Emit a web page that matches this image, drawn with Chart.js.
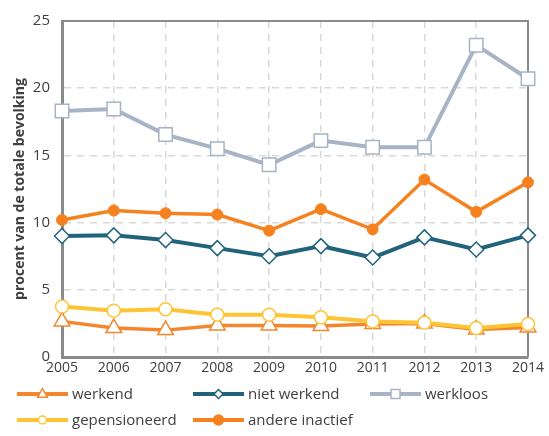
<!DOCTYPE html>
<html>
<head>
<meta charset="utf-8">
<script src="https://cdn.jsdelivr.net/npm/chart.js@4.4.1/dist/chart.umd.min.js"></script>
<style>
  html, body { margin: 0; padding: 0; background: #fff; }
  #wrap { width: 549px; height: 436px; }
</style>
</head>
<body>
<div id="wrap"><canvas id="myChart" width="549" height="436"></canvas></div>
<script>
const years = ['2005','2006','2007','2008','2009','2010','2011','2012','2013','2014'];
const yTicks = [0, 5, 10, 15, 20, 25];

const werkend = [2.65, 2.15, 2.0, 2.35, 2.35, 2.3, 2.45, 2.5, 2.05, 2.2];
const nietWerkend = [9.0, 9.05, 8.7, 8.1, 7.5, 8.25, 7.4, 8.9, 8.0, 9.05];
const werkloos = [18.3, 18.45, 16.55, 15.5, 14.3, 16.1, 15.6, 15.6, 23.2, 20.7];
const gepensioneerd = [3.75, 3.45, 3.55, 3.15, 3.15, 2.95, 2.65, 2.55, 2.15, 2.45];
const andereInactief = [10.2, 10.9, 10.7, 10.6, 9.4, 11.0, 9.5, 13.2, 10.8, 13.0];

const FONT = "'Open Sans', sans-serif";
const TEXT = '#404040';
const AXIS = '#8a8a8a';

// legend layout (columns / rows)
const legendCols = [17, 193, 370];
const legendRows = [394, 420];

function marker(ctx, style, x, y, r, fill, stroke, bw) {
  ctx.save();
  ctx.beginPath();
  if (style === 'circle') {
    ctx.arc(x, y, r, 0, Math.PI * 2);
  } else if (style === 'rect') {
    ctx.rect(x - r, y - r, 2 * r, 2 * r);
  } else if (style === 'rectRot') {
    ctx.moveTo(x, y - r); ctx.lineTo(x + r, y); ctx.lineTo(x, y + r); ctx.lineTo(x - r, y);
    ctx.closePath();
  } else if (style === 'triangle') {
    ctx.moveTo(x, y - r); ctx.lineTo(x + r * 0.9, y + r * 0.6); ctx.lineTo(x - r * 0.9, y + r * 0.6);
    ctx.closePath();
  }
  ctx.fillStyle = fill;
  ctx.fill();
  ctx.lineWidth = bw;
  ctx.strokeStyle = stroke;
  ctx.stroke();
  ctx.restore();
}

const frame = {
  id: 'frame',
  beforeDatasetsDraw(chart) {
    const a = chart.chartArea;
    const ctx = chart.ctx;
    ctx.save();
    ctx.strokeStyle = AXIS;
    ctx.lineWidth = 2;
    ctx.beginPath();
    ctx.moveTo(a.left, a.top);
    ctx.lineTo(a.right, a.top);
    ctx.lineTo(a.right, a.bottom);
    ctx.stroke();
    ctx.restore();
  }
};

const customLegend = {
  id: 'customLegend',
  afterDraw(chart) {
    const ctx = chart.ctx;
    const items = [
      { label: 'werkend', col: 0, row: 0, color: '#f3862e', style: 'triangle', fill: '#fff', r: 5.5 },
      { label: 'niet werkend', col: 1, row: 0, color: '#22637c', style: 'rectRot', fill: '#fff', r: 4.5 },
      { label: 'werkloos', col: 2, row: 0, color: '#a7b4c5', style: 'rect', fill: '#fff', r: 4.5 },
      { label: 'gepensioneerd', col: 0, row: 1, color: '#fdc534', style: 'circle', fill: '#fff', r: 4 },
      { label: 'andere inactief', col: 1, row: 1, color: '#f5821f', style: 'circle', fill: '#f5821f', r: 5 }
    ];
    ctx.save();
    items.forEach(it => {
      const x = legendCols[it.col];
      const y = legendRows[it.row];
      ctx.strokeStyle = it.color;
      ctx.lineWidth = 4;
      ctx.beginPath();
      ctx.moveTo(x, y);
      ctx.lineTo(x + 51, y);
      ctx.stroke();
      marker(ctx, it.style, x + 25.5, y, it.r, it.fill, it.color, 1.5);
      ctx.fillStyle = TEXT;
      ctx.font = '15px ' + FONT;
      ctx.textBaseline = 'middle';
      ctx.textAlign = 'left';
      ctx.fillText(it.label, x + 55, y + 1);
    });
    ctx.restore();
  }
};

const config = {
  type: 'line',
  data: {
    labels: years,
    datasets: [
      {
        label: 'werkend', data: werkend, order: 1,
        borderColor: '#f3862e', borderWidth: 3.5,
        pointStyle: 'triangle', pointRadius: 9, pointBackgroundColor: '#fff',
        pointBorderColor: '#f3862e', pointBorderWidth: 1.5
      },
      {
        label: 'niet werkend', data: nietWerkend, order: 2,
        borderColor: '#22637c', borderWidth: 4,
        pointStyle: 'rectRot', pointRadius: 7.5, pointBackgroundColor: '#fff',
        pointBorderColor: '#22637c', pointBorderWidth: 1.5
      },
      {
        label: 'werkloos', data: werkloos, order: 3,
        borderColor: '#a7b4c5', borderWidth: 4,
        pointStyle: 'rect', pointRadius: 9.5, pointBackgroundColor: '#fff',
        pointBorderColor: '#a7b4c5', pointBorderWidth: 1.5
      },
      {
        label: 'gepensioneerd', data: gepensioneerd, order: 0,
        borderColor: '#fdc534', borderWidth: 4,
        pointStyle: 'circle', pointRadius: 6.5, pointBackgroundColor: '#fff',
        pointBorderColor: '#fdc534', pointBorderWidth: 1.5
      },
      {
        label: 'andere inactief', data: andereInactief, order: 0,
        borderColor: '#f5821f', borderWidth: 3.5,
        pointStyle: 'circle', pointRadius: 5.5, pointBackgroundColor: '#f5821f',
        pointBorderColor: '#f5821f', pointBorderWidth: 1
      }
    ]
  },
  options: {
    responsive: false,
    animation: false,
    events: [],
    layout: { padding: { top: 17, right: 21, bottom: 57, left: 6 } },
    plugins: {
      legend: { display: false },
      tooltip: { enabled: false }
    },
    scales: {
      x: {
        offset: false,
        grid: { color: '#d9d9d9', lineWidth: 1.5, drawTicks: false },
        border: { display: true, color: AXIS, width: 3, dash: [7, 6] },
        ticks: { color: TEXT, font: { family: FONT, size: 14 }, padding: 3, maxRotation: 0, autoSkip: false },
        afterFit(scale) { scale.height = 22; }
      },
      y: {
        min: 0, max: 25,
        afterBuildTicks(scale) { scale.ticks = yTicks.map(v => ({ value: v })); },
        grid: { color: '#d9d9d9', lineWidth: 1.5, drawTicks: false },
        border: { display: true, color: AXIS, width: 3, dash: [7, 6] },
        ticks: { color: TEXT, font: { family: FONT, size: 15 }, padding: 12 },
        title: {
          display: true, text: 'procent van de totale bevolking',
          color: TEXT, font: { family: FONT, size: 14, weight: 'bold' },
          padding: { top: 6, bottom: 4 }
        },
        afterFit(scale) { scale.width = 56; }
      }
    }
  },
  plugins: [frame, customLegend]
};

let ctx = document.getElementById('myChart').getContext('2d');
let myChart = new Chart(ctx, config);
</script>
</body>
</html>
